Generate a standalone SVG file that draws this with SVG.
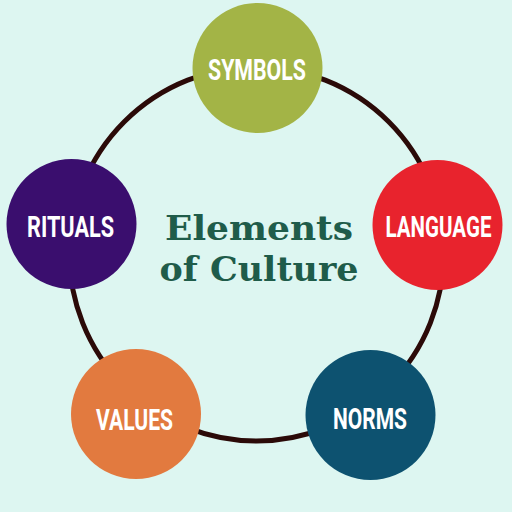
<svg xmlns="http://www.w3.org/2000/svg" width="512" height="512" viewBox="0 0 512 512">
<style>
.node text{font-family:"Roboto","Liberation Sans",sans-serif;font-weight:bold;font-size:30px;fill:#ffffff;text-anchor:middle}
.title{font-family:"DejaVu Serif","Liberation Serif",serif;font-weight:bold;font-size:34px;fill:#1f5c4a;text-anchor:middle}
</style>
<rect width="512" height="512" fill="#ddf6f1"/>
<g id="connectors">
<circle cx="256.5" cy="254" r="187" fill="none" stroke="#2b0a08" stroke-width="5"/>
</g>
<g id="title">
<text class="title" x="259" y="240" textLength="188" lengthAdjust="spacingAndGlyphs">Elements</text>
<text class="title" x="259" y="281" textLength="199" lengthAdjust="spacingAndGlyphs">of Culture</text>
</g>
<g id="symbols" class="node">
<circle cx="257.5" cy="68" r="65" fill="#a3b446"/>
<text x="257" y="80" textLength="98" lengthAdjust="spacingAndGlyphs">SYMBOLS</text>
</g>
<g id="language" class="node">
<circle cx="437.5" cy="225" r="65" fill="#e8232d"/>
<text x="438.5" y="237" textLength="106" lengthAdjust="spacingAndGlyphs">LANGUAGE</text>
</g>
<g id="norms" class="node">
<circle cx="370.5" cy="415" r="65" fill="#0d5270"/>
<text x="370" y="429" textLength="74" lengthAdjust="spacingAndGlyphs">NORMS</text>
</g>
<g id="values" class="node">
<circle cx="136" cy="414" r="65" fill="#e27a3f"/>
<text x="134.5" y="430" textLength="77" lengthAdjust="spacingAndGlyphs">VALUES</text>
</g>
<g id="rituals" class="node">
<circle cx="71.5" cy="224" r="65" fill="#3a0e6e"/>
<text x="70.5" y="237" textLength="87" lengthAdjust="spacingAndGlyphs">RITUALS</text>
</g>
</svg>
